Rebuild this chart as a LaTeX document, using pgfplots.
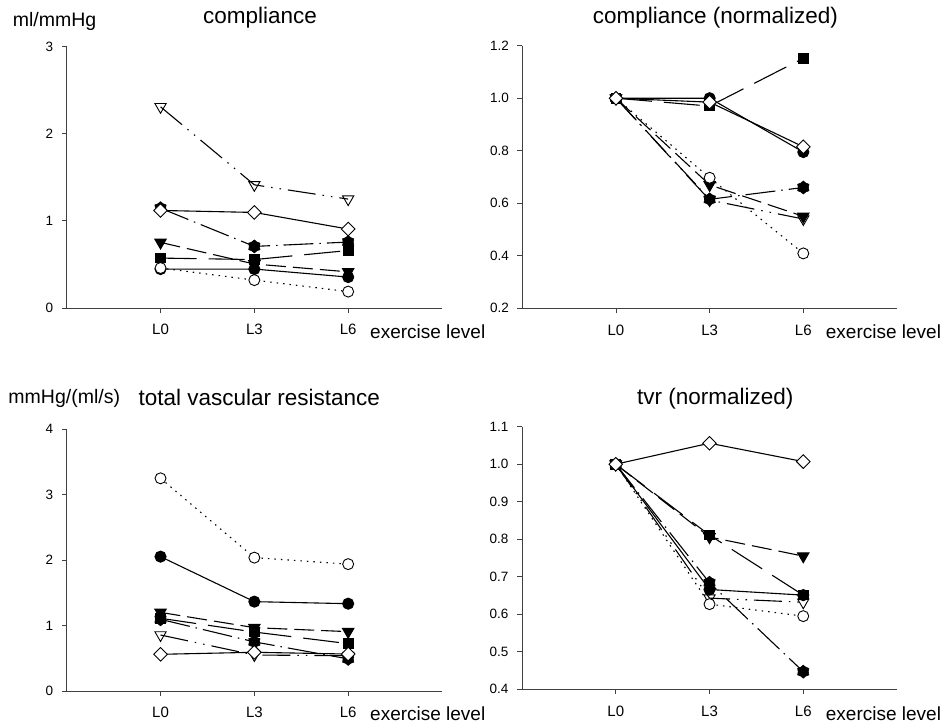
\documentclass[border=0pt]{standalone}
\usepackage{fontspec}
\setmainfont{Liberation Sans}
\usepackage{pgfplots}
\usepackage{pgfplotstable}
\pgfplotsset{compat=1.18}

% square standing on a corner, same width and height
\pgfdeclareplotmark{rdiamond}{%
  \pgfpathmoveto{\pgfqpoint{0pt}{\pgfplotmarksize}}%
  \pgfpathlineto{\pgfqpoint{\pgfplotmarksize}{0pt}}%
  \pgfpathlineto{\pgfqpoint{0pt}{-\pgfplotmarksize}}%
  \pgfpathlineto{\pgfqpoint{-\pgfplotmarksize}{0pt}}%
  \pgfpathclose
  \pgfusepathqfillstroke}
% filled six-pointed blob
\pgfdeclareplotmark{hexstar}{%
  \pgfpathmoveto{\pgfpointpolar{90}{\pgfplotmarksize}}%
  \pgfpathlineto{\pgfpointpolar{120}{0.78\pgfplotmarksize}}%
  \pgfpathlineto{\pgfpointpolar{150}{\pgfplotmarksize}}%
  \pgfpathlineto{\pgfpointpolar{180}{0.78\pgfplotmarksize}}%
  \pgfpathlineto{\pgfpointpolar{210}{\pgfplotmarksize}}%
  \pgfpathlineto{\pgfpointpolar{240}{0.78\pgfplotmarksize}}%
  \pgfpathlineto{\pgfpointpolar{270}{\pgfplotmarksize}}%
  \pgfpathlineto{\pgfpointpolar{300}{0.78\pgfplotmarksize}}%
  \pgfpathlineto{\pgfpointpolar{330}{\pgfplotmarksize}}%
  \pgfpathlineto{\pgfpointpolar{0}{0.78\pgfplotmarksize}}%
  \pgfpathlineto{\pgfpointpolar{30}{\pgfplotmarksize}}%
  \pgfpathlineto{\pgfpointpolar{60}{0.78\pgfplotmarksize}}%
  \pgfpathclose
  \pgfusepathqfillstroke}

% columns: exercise level (1=L0, 2=L3, 3=L6), then one column per subject
\pgfplotstableread{
lvl tri   hex   sq    tdn   fc    oc    dia
1   2.310 1.146 0.573 0.753 0.447 0.459 1.120
2   1.414 0.707 0.556 0.505 0.447 0.320 1.097
3   1.250 0.757 0.660 0.415 0.355 0.188 0.906
}\compraw
\pgfplotstableread{
lvl tri   hex   sq    tdn   fc    oc    dia
1   1.000 1.000 1.000 1.000 1.000 1.000 1.000
2   0.612 0.615 0.970 0.670 1.000 0.697 0.985
3   0.540 0.660 1.152 0.550 0.795 0.409 0.815
}\compnorm
\pgfplotstableread{
lvl tri   hex   sq    tdn   fc    oc    dia
1   0.855 1.094 1.110 1.200 2.051 3.247 0.560
2   0.549 0.750 0.900 0.967 1.364 2.036 0.591
3   0.539 0.490 0.723 0.906 1.333 1.937 0.564
}\tvrraw
\pgfplotstableread{
lvl tri   hex   sq    tdn   fc    oc    dia
1   1.000 1.000 1.000 1.000 1.000 1.000 1.000
2   0.643 0.684 0.811 0.806 0.666 0.627 1.056
3   0.632 0.447 0.651 0.755 0.651 0.595 1.007
}\tvrnorm

\pgfplotsset{
  panel/.style={
    scale only axis, clip=false,
    axis x line*=bottom, axis y line*=left,
    axis line style={-, black!75, line width=0.8pt},
    xmin=0, xmax=4, xtick={1,2,3}, xticklabels={L0,L3,L6},
    % ticks point outwards (negative length), labels placed explicitly
    tick align=inside, major tick length=-5pt,
    tick style={black!75, line width=0.8pt},
    minor tick num=0,
    /pgf/number format/assume math mode=true,
    yticklabel style={font=\fontsize{13.5}{14}\selectfont, anchor=east, inner sep=0pt, xshift=-13.3pt},
    xticklabel style={font=\fontsize{15}{15}\selectfont, anchor=base, inner sep=0pt, yshift=-27pt},
    every axis plot/.append style={line width=1.1pt, black},
  },
  s-tri/.style={dash pattern=on 28pt off 7pt on 1.5pt off 7pt on 1.5pt off 7pt,
    mark=triangle, mark size=6.5pt, mark options={solid, rotate=180, fill=white, line width=0.9pt}},
  s-hex/.style={dash pattern=on 30pt off 6pt on 1.5pt off 6pt,
    mark=hexstar, mark size=6.5pt, mark options={solid, fill=black, line width=0.6pt}},
  s-sq/.style={dash pattern=on 36pt off 12pt,
    mark=square*, mark size=4.8pt, mark options={solid, fill=black}},
  s-tdn/.style={dash pattern=on 20pt off 7pt,
    mark=triangle*, mark size=6.5pt, mark options={solid, rotate=180, fill=black}},
  s-fc/.style={solid, mark=*, mark size=5.5pt, mark options={solid, fill=black}},
  s-oc/.style={dash pattern=on 1.5pt off 5pt,
    mark=*, mark size=5.5pt, mark options={solid, fill=white, line width=0.9pt}},
  s-dia/.style={solid, mark=rdiamond, mark size=6.8pt, mark options={solid, fill=white, line width=0.9pt}},
}

% one line per subject, drawn in this stacking order
\newcommand{\subjects}[1]{%
  \addplot[s-hex] table[x=lvl, y=hex] {#1};
  \addplot[s-sq]  table[x=lvl, y=sq]  {#1};
  \addplot[s-tdn] table[x=lvl, y=tdn] {#1};
  \addplot[s-tri] table[x=lvl, y=tri] {#1};
  \addplot[s-fc]  table[x=lvl, y=fc]  {#1};
  \addplot[s-oc]  table[x=lvl, y=oc]  {#1};
  \addplot[s-dia] table[x=lvl, y=dia] {#1};
}

\begin{document}
\begin{tikzpicture}
\path[use as bounding box] (0pt,0pt) rectangle (946pt,728pt);

% compliance
\begin{axis}[panel, at={(66.7pt,420pt)}, anchor=south west,
  width=375.3pt, height=261.3pt, ymin=0, ymax=3, ytick={0,1,2,3}]
  \subjects{\compraw}
\end{axis}

% compliance, normalized to L0
\begin{axis}[panel, at={(522.3pt,419.7pt)}, anchor=south west,
  width=374.7pt, height=262.6pt, ymin=0.2, ymax=1.2,
  ytick={0.2,0.4,0.6,0.8,1.0,1.2},
  yticklabel style={/pgf/number format/.cd, fixed, fixed zerofill, precision=1}]
  \subjects{\compnorm}
\end{axis}

% total vascular resistance
\begin{axis}[panel, at={(66.7pt,37pt)}, anchor=south west,
  width=375.3pt, height=262pt, ymin=0, ymax=4, ytick={0,1,2,3,4}]
  \subjects{\tvrraw}
\end{axis}

% tvr, normalized to L0
\begin{axis}[panel, at={(522pt,38.7pt)}, anchor=south west,
  width=375pt, height=262.6pt, ymin=0.4, ymax=1.1,
  ytick={0.4,0.5,0.6,0.7,0.8,0.9,1.0,1.1},
  yticklabel style={/pgf/number format/.cd, fixed, fixed zerofill, precision=1}]
  \subjects{\tvrnorm}
\end{axis}

\begin{scope}[every node/.style={inner sep=0pt}]
  \node[anchor=base west, font=\fontsize{19.5}{20}\selectfont] at (12.7pt,701pt) {ml/mmHg};
  \node[anchor=base, font=\fontsize{22.5}{23}\selectfont] at (260pt,704pt) {compliance};
  \node[anchor=base, font=\fontsize{22.5}{23}\selectfont] at (715.5pt,704pt) {compliance (normalized)};
  \node[anchor=base west, font=\fontsize{19.5}{20}\selectfont] at (8.3pt,324pt) {mmHg/(ml/s)};
  \node[anchor=base, font=\fontsize{22.5}{23}\selectfont] at (259.3pt,322.5pt) {total vascular resistance};
  \node[anchor=base, font=\fontsize{22.5}{23}\selectfont] at (715.2pt,323pt) {tvr (normalized)};
  \node[anchor=base west, font=\fontsize{19}{20}\selectfont] at (370pt,389pt) {exercise level};
  \node[anchor=base west, font=\fontsize{19}{20}\selectfont] at (825.7pt,389pt) {exercise level};
  \node[anchor=base west, font=\fontsize{19}{20}\selectfont] at (370pt,7pt) {exercise level};
  \node[anchor=base west, font=\fontsize{19}{20}\selectfont] at (825.7pt,7pt) {exercise level};
\end{scope}
\end{tikzpicture}
\end{document}
